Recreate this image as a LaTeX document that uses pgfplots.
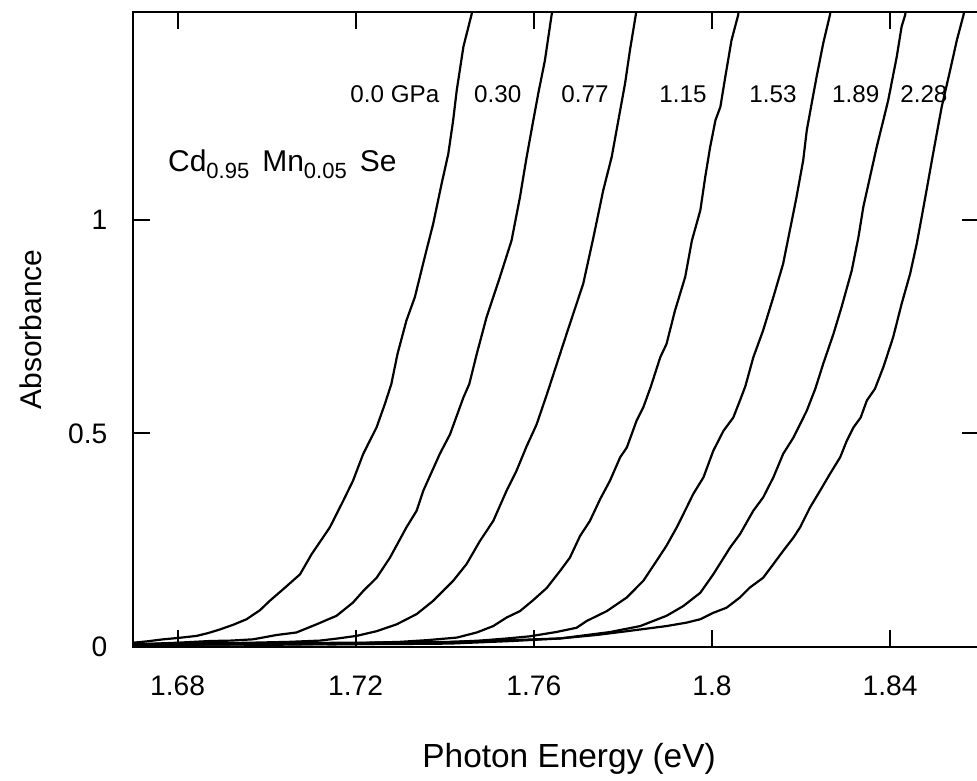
\documentclass[border=0pt]{standalone}
\usepackage{fontspec}
\setmainfont{Liberation Sans}
\usepackage{pgfplots}
\pgfplotsset{compat=1.18}
\pgfplotsset{curve/.style={black, solid, line width=1.1pt, line join=round, mark=none}}
\begin{document}
\begin{tikzpicture}
\begin{axis}[
 scale only axis, width=423.05pt, height=317.5pt,
 xmin=1.67, xmax=1.86, ymin=0, ymax=1.486,
 axis line style={line width=1pt},
 tick style={line width=1pt, black},
 major tick length=8.5pt,
 tick align=inside, tick pos=both,
 xtick={1.68,1.72,1.76,1.8,1.84}, xticklabels={1.68,1.72,1.76,1.8,1.84},
 ytick={0,0.5,1}, yticklabels={0,0.5,1},
 tick label style={font=\fontsize{14.1}{17}\selectfont},
 xticklabel style={yshift=-10.8pt},
 yticklabel style={xshift=-9.3pt},
 xlabel={Photon Energy (eV)},
 ylabel={Absorbance},
 xlabel style={font=\fontsize{16.7}{20}\selectfont, at={([yshift=-60pt]axis description cs:0.5154,0)}, anchor=base},
 ylabel style={font=\fontsize{15}{18}\selectfont, at={([xshift=-45.5pt]axis description cs:0,0.5)}, anchor=base},
]
\addplot[curve] table {
1.6700 0.010
1.6730 0.013
1.6768 0.018
1.6800 0.021
1.6843 0.026
1.6870 0.033
1.6895 0.041
1.6925 0.052
1.6955 0.065
1.6985 0.086
1.7007 0.108
1.7037 0.135
1.7075 0.170
1.7101 0.217
1.7142 0.280
1.7172 0.342
1.7194 0.389
1.7217 0.452
1.7247 0.514
1.7266 0.570
1.7280 0.615
1.7294 0.686
1.7314 0.764
1.7333 0.819
1.7355 0.912
1.7374 0.990
1.7393 1.084
1.7408 1.154
1.7419 1.233
1.7427 1.303
1.7442 1.405
1.7460 1.479
1.7470 1.530
};
\addplot[curve] table {
1.6700 0.006
1.6750 0.008
1.6800 0.010
1.6873 0.014
1.6920 0.015
1.6970 0.018
1.7022 0.028
1.7067 0.034
1.7112 0.053
1.7157 0.073
1.7194 0.104
1.7217 0.131
1.7247 0.162
1.7277 0.209
1.7314 0.280
1.7337 0.319
1.7352 0.366
1.7389 0.452
1.7412 0.498
1.7442 0.584
1.7455 0.615
1.7472 0.686
1.7494 0.772
1.7524 0.866
1.7550 0.951
1.7569 1.053
1.7584 1.147
1.7599 1.233
1.7610 1.295
1.7625 1.373
1.7640 1.479
1.7648 1.530
};
\addplot[curve] table {
1.6700 0.006
1.6800 0.008
1.6900 0.009
1.6962 0.010
1.7050 0.012
1.7120 0.015
1.7160 0.020
1.7202 0.026
1.7247 0.037
1.7292 0.053
1.7337 0.077
1.7374 0.108
1.7419 0.155
1.7449 0.194
1.7479 0.248
1.7509 0.295
1.7539 0.366
1.7561 0.412
1.7584 0.470
1.7606 0.520
1.7629 0.590
1.7659 0.686
1.7681 0.756
1.7711 0.850
1.7734 0.959
1.7756 1.069
1.7775 1.147
1.7794 1.256
1.7805 1.319
1.7816 1.397
1.7829 1.479
1.7837 1.530
};
\addplot[curve] table {
1.6700 0.004
1.6800 0.005
1.6900 0.006
1.7000 0.005
1.7075 0.006
1.7200 0.009
1.7299 0.012
1.7360 0.016
1.7427 0.022
1.7472 0.034
1.7509 0.049
1.7539 0.069
1.7569 0.084
1.7599 0.110
1.7629 0.138
1.7659 0.178
1.7681 0.209
1.7704 0.260
1.7726 0.295
1.7749 0.346
1.7771 0.389
1.7794 0.444
1.7809 0.467
1.7831 0.530
1.7846 0.561
1.7863 0.610
1.7884 0.678
1.7898 0.709
1.7917 0.787
1.7940 0.866
1.7955 0.951
1.7974 1.022
1.7985 1.100
1.7996 1.170
1.8008 1.233
1.8019 1.264
1.8030 1.334
1.8044 1.420
1.8059 1.479
1.8065 1.530
};
\addplot[curve] table {
1.6700 0.005
1.6850 0.006
1.7000 0.007
1.7150 0.006
1.7299 0.008
1.7400 0.011
1.7479 0.015
1.7540 0.020
1.7591 0.025
1.7650 0.035
1.7696 0.045
1.7719 0.061
1.7764 0.084
1.7809 0.116
1.7846 0.155
1.7876 0.202
1.7898 0.237
1.7921 0.280
1.7943 0.326
1.7958 0.358
1.7981 0.397
1.8003 0.459
1.8026 0.506
1.8048 0.537
1.8063 0.577
1.8075 0.610
1.8093 0.678
1.8115 0.741
1.8138 0.819
1.8160 0.897
1.8175 0.975
1.8190 1.053
1.8205 1.139
1.8213 1.209
1.8224 1.272
1.8235 1.334
1.8250 1.413
1.8265 1.479
1.8272 1.530
};
\addplot[curve] table {
1.6700 0.007
1.6850 0.008
1.7000 0.009
1.7200 0.010
1.7412 0.012
1.7550 0.016
1.7659 0.020
1.7771 0.035
1.7839 0.049
1.7898 0.073
1.7936 0.096
1.7974 0.127
1.8003 0.170
1.8041 0.233
1.8063 0.264
1.8093 0.319
1.8115 0.350
1.8138 0.397
1.8160 0.452
1.8183 0.490
1.8213 0.553
1.8232 0.604
1.8250 0.663
1.8273 0.733
1.8291 0.795
1.8314 0.881
1.8329 0.959
1.8340 1.030
1.8355 1.100
1.8370 1.170
1.8385 1.233
1.8396 1.280
1.8415 1.381
1.8426 1.452
1.8434 1.479
1.8440 1.530
};
\addplot[curve] table {
1.6700 0.005
1.6900 0.006
1.7100 0.007
1.7300 0.007
1.7412 0.008
1.7550 0.014
1.7659 0.020
1.7740 0.028
1.7809 0.037
1.7898 0.049
1.7943 0.057
1.7974 0.065
1.8003 0.080
1.8033 0.092
1.8063 0.116
1.8085 0.139
1.8115 0.162
1.8138 0.194
1.8160 0.225
1.8183 0.256
1.8198 0.280
1.8220 0.326
1.8243 0.366
1.8265 0.405
1.8288 0.444
1.8303 0.483
1.8318 0.514
1.8334 0.537
1.8348 0.577
1.8366 0.604
1.8385 0.655
1.8407 0.725
1.8426 0.803
1.8445 0.873
1.8460 0.944
1.8471 1.006
1.8482 1.069
1.8494 1.139
1.8505 1.202
1.8516 1.264
1.8535 1.350
1.8550 1.420
1.8565 1.479
1.8573 1.530
};
\node[font=\fontsize{12.1}{14}\selectfont] at (axis cs:1.7288,1.294) {0.0 GPa};
\node[font=\fontsize{12.1}{14}\selectfont] at (axis cs:1.7519,1.294) {0.30};
\node[font=\fontsize{12.1}{14}\selectfont] at (axis cs:1.7715,1.294) {0.77};
\node[font=\fontsize{12.1}{14}\selectfont] at (axis cs:1.7935,1.294) {1.15};
\node[font=\fontsize{12.1}{14}\selectfont] at (axis cs:1.8137,1.294) {1.53};
\node[font=\fontsize{12.1}{14}\selectfont] at (axis cs:1.8323,1.294) {1.89};
\node[font=\fontsize{12.1}{14}\selectfont] at (axis cs:1.8476,1.294) {2.28};
\node[anchor=base west, inner sep=0pt, font=\fontsize{15}{18}\selectfont] at (axis cs:1.6778,1.1116)
 {Cd\raisebox{-3.5pt}{\fontsize{11}{13}\selectfont 0.95}\hspace{6.5pt}Mn\raisebox{-3.5pt}{\fontsize{11}{13}\selectfont 0.05}\hspace{6.5pt}Se};
\end{axis}
\pgfresetboundingbox
\useasboundingbox (-66.5pt,-66.5pt) rectangle (422pt,323.5pt);
\end{tikzpicture}
\end{document}
